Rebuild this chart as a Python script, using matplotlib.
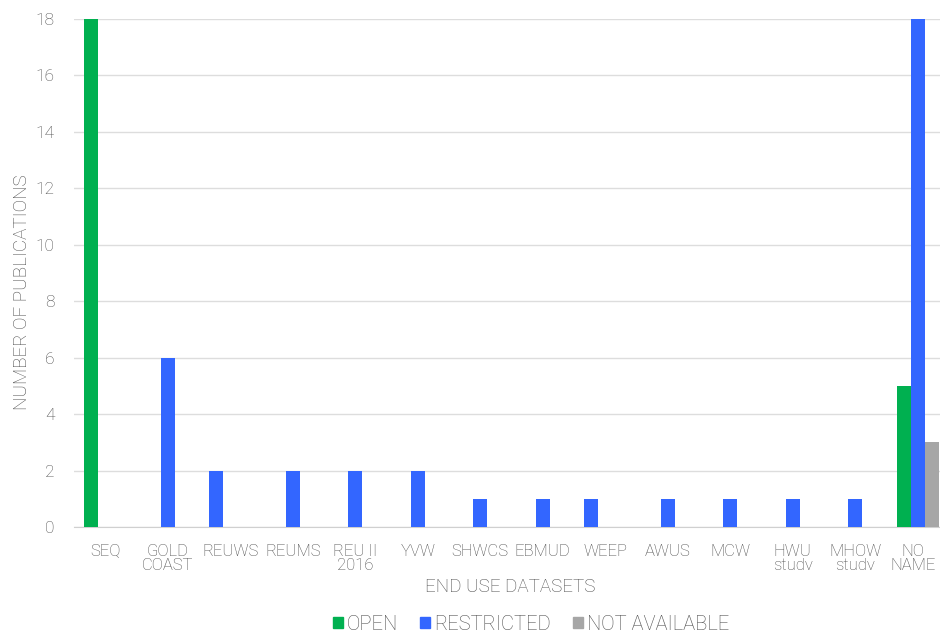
import numpy as np
import matplotlib
matplotlib.use("Agg")
import matplotlib.pyplot as plt
from matplotlib.patches import Patch
from matplotlib.transforms import ScaledTranslation

categories = ["SEQ", "GOLD\nCOAST", "REUWS", "REUMS", "REU II\n2016", "YVW",
              "SHWCS", "EBMUD", "WEEP", "AWUS", "MCW", "HWU\nstudv",
              "MHOW\nstudv", "NO\nNAME"]
open_counts = [18, 0, 0, 0, 0, 0, 0, 0, 0, 0, 0, 0, 0, 5]
restricted_counts = [0, 6, 2, 2, 2, 2, 1, 1, 1, 1, 1, 1, 1, 18]
not_available_counts = [0, 0, 0, 0, 0, 0, 0, 0, 0, 0, 0, 0, 0, 3]
series_names = ["OPEN", "RESTRICTED", "NOT AVAILABLE"]
# in the source these two restricted bars sit in the first slot of the group
first_slot = ["REUWS", "WEEP"]

colors = ["#00B050", "#3366FF", "#A6A6A6"]
text_color = "#4D4D4D"
plt.rcParams["font.family"] = ["Roboto", "DejaVu Sans"]
plt.rcParams["font.weight"] = "light"

W, H = 940, 635
fig = plt.figure(figsize=(W / 100, H / 100), dpi=100)
ax = fig.add_axes([74 / W, (H - 527) / H, (949 - 74) / W, (527 - 19) / H])

x = np.arange(len(categories))
width = 0.224
offsets = np.array([-width, 0.0, width])

ax.bar(x + offsets[0], open_counts, width, color=colors[0], zorder=3)
restr_x = [xi + (offsets[0] if c in first_slot else offsets[1])
           for xi, c in zip(x, categories)]
ax.bar(restr_x, restricted_counts, width, color=colors[1], zorder=3)
ax.bar(x + offsets[2], not_available_counts, width, color=colors[2], zorder=3)

ax.set_xlim(-0.5, len(categories) - 0.5)
ax.set_ylim(0, 18)
ax.set_yticks(range(0, 19, 2))
ax.set_xticks(x)
ax.set_xticklabels(categories, linespacing=0.95)
ax.grid(axis="y", color="#DDDDDD", linewidth=1, zorder=0)
for side in ["top", "right", "left"]:
    ax.spines[side].set_visible(False)
ax.spines["bottom"].set_color("#D0D0D0")
ax.tick_params(axis="x", length=0, pad=12, labelsize=12, labelcolor=text_color)
ax.tick_params(axis="y", length=0, pad=14, labelsize=12.5, labelcolor=text_color)
# last label sits close to the right edge of the picture, nudge it left
last = ax.get_xticklabels()[-1]
last.set_transform(last.get_transform()
                   + ScaledTranslation(-5 / 100, 0, fig.dpi_scale_trans))

fig.text(22 / W, 1 - 292 / H, "NUMBER OF PUBLICATIONS", rotation=90,
         ha="center", va="center", fontsize=13.5, color=text_color)
fig.text(510 / W, 1 - 587 / H, "END USE DATASETS",
         ha="center", va="center", fontsize=13.5, color=text_color)

handles = [Patch(color=c, label=n) for c, n in zip(colors, series_names)]
fig.legend(handles=handles, loc="center", bbox_to_anchor=(531 / W, 1 - 624 / H),
           ncol=3, frameon=False, fontsize=14.5, labelcolor=text_color,
           handlelength=0.5, handleheight=0.5, handletextpad=0.2,
           columnspacing=1.1, borderpad=0)

fig.savefig("out.png", dpi=100)
